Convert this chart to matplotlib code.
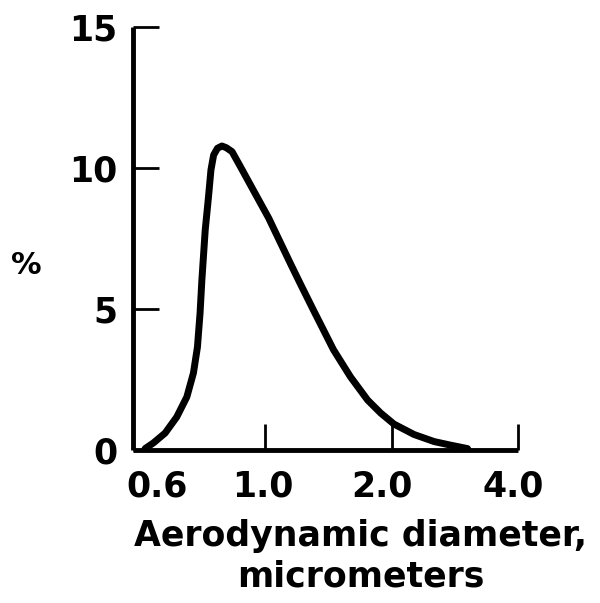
import matplotlib
matplotlib.use("Agg")
import matplotlib.pyplot as plt
from matplotlib.transforms import ScaledTranslation

# Data
diameter_um = [0.517, 0.541, 0.577, 0.615, 0.650, 0.674, 0.689, 0.699, 0.706,
               0.719, 0.732, 0.742, 0.753, 0.769, 0.788, 0.807, 0.833, 0.872,
               0.955, 1.018, 1.147, 1.212, 1.302, 1.454, 1.596, 1.753,
               1.883, 2.025, 2.261, 2.524, 2.767, 3.033]
percent = [0.05, 0.25, 0.60, 1.17, 1.88, 2.73, 3.65, 4.86, 6.03,
           7.80, 8.97, 9.93, 10.46, 10.70, 10.78, 10.72, 10.58, 10.05,
           8.98, 8.23, 6.62, 5.89, 4.96, 3.55, 2.59, 1.77,
           1.31, 0.92, 0.55, 0.30, 0.17, 0.05]

x_ticks = [0.6, 1.0, 2.0, 4.0]
x_tick_labels = ["0.6", "1.0", "2.0", "4.0"]
y_ticks = [0, 5, 10, 15]
y_tick_labels = ["0", "5", "10", "15"]

FONT = "DejaVu Sans"

fig = plt.figure(figsize=(6.0, 6.03), dpi=100)
ax = fig.add_axes([133 / 600, 153 / 603, (518 - 133) / 600, (450 - 27) / 603])

ax.plot(diameter_um, percent, color="black", lw=5, solid_capstyle="round",
        solid_joinstyle="round", clip_on=False)

ax.set_xscale("log")
ax.set_xlim(0.4838, 4.0)
ax.set_ylim(0, 15)

for s in ["top", "right"]:
    ax.spines[s].set_visible(False)
for s in ["left", "bottom"]:
    ax.spines[s].set_linewidth(3.5)
    ax.spines[s].set_capstyle("butt")

ax.minorticks_off()
ax.set_xticks(x_ticks)
ax.set_xticklabels(x_tick_labels)
ax.set_yticks(y_ticks)
ax.set_yticklabels(y_tick_labels)

ax.tick_params(axis="x", direction="in", length=19, width=2, pad=14,
               labelsize=25)
ax.tick_params(axis="y", direction="in", length=19, width=2, pad=11,
               labelsize=25)
# hide tick mark at 0.6
ax.xaxis.get_major_ticks()[0].tick1line.set_visible(False)

for lab in ax.get_xticklabels() + ax.get_yticklabels():
    lab.set_fontfamily(FONT)
    lab.set_fontweight("bold")

# small horizontal offsets of x tick labels as in reference
offsets_px = [-15, -3, -10, -5]
for lab, dx in zip(ax.get_xticklabels(), offsets_px):
    lab.set_transform(lab.get_transform() + ScaledTranslation(dx / 100, 0, fig.dpi_scale_trans))

fig.text(26 / 600, 1 - 265 / 603, "%", ha="center", va="center",
         fontsize=22, fontweight="bold", family=FONT)

fig.text(361 / 600, 1 - 556 / 603, "Aerodynamic diameter,\nmicrometers",
         ha="center", va="center", multialignment="center",
         fontsize=25, fontweight="bold", family=FONT, linespacing=1.25)

fig.savefig("out.png", dpi=100, facecolor="white")
